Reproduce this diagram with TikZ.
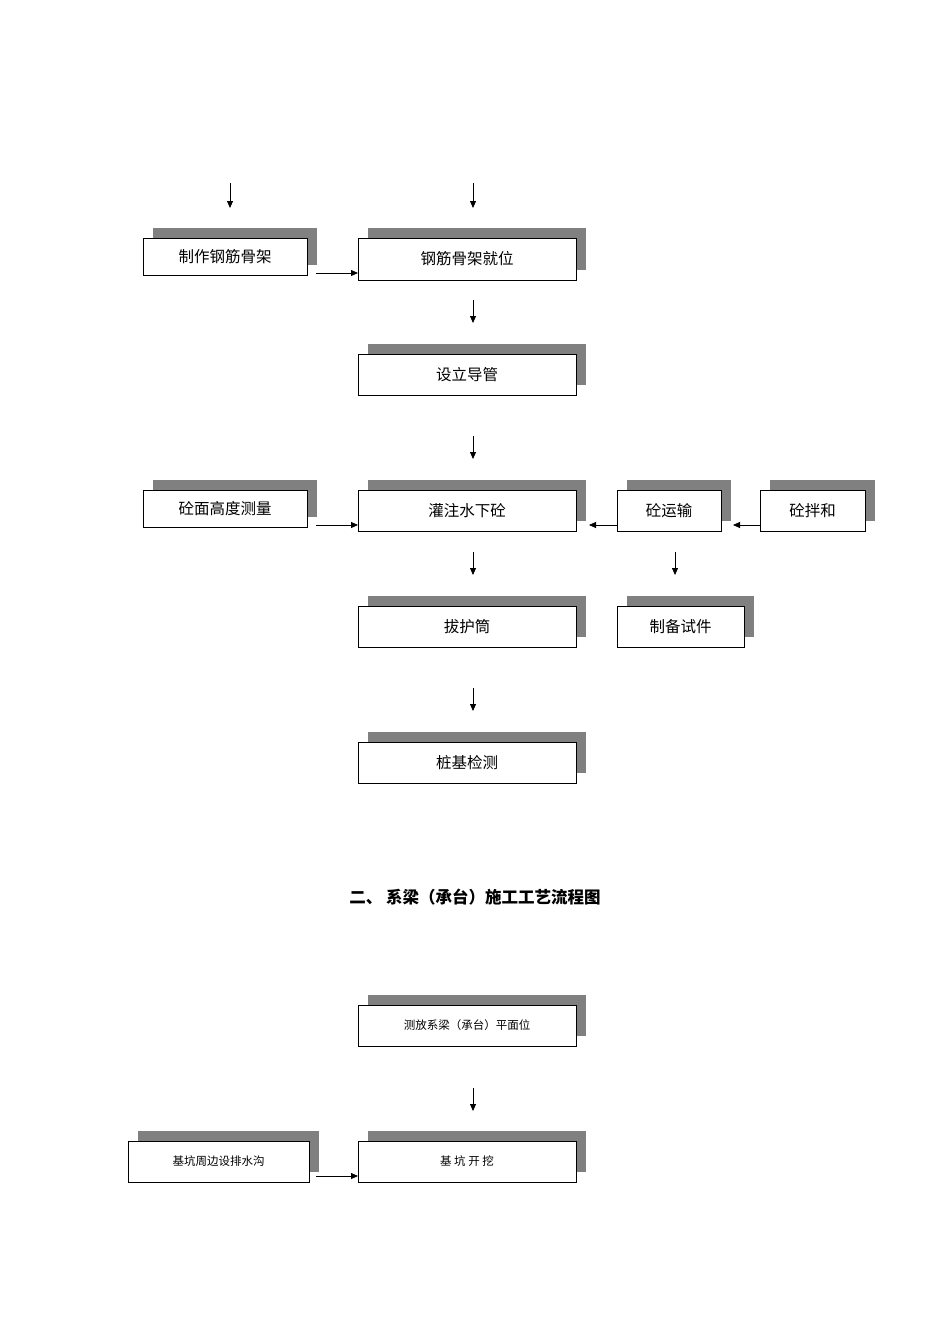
\documentclass[tikz,border=0pt]{standalone}
\usepackage{fontspec}
\newfontfamily\cjk{Noto Sans CJK SC}
\usetikzlibrary{arrows.meta}
\begin{document}
\begin{tikzpicture}[x=1pt,y=-1pt,
  arr/.style={-{Triangle[length=7pt,width=6pt]},line width=0.8pt},
  shad/.style={fill=black!50},
  frame/.style={draw,fill=white,line width=0.8pt}]
\useasboundingbox (0,0) rectangle (950,1344);
\newcommand\shbox[6]{%
  \fill[shad] (#2+10,#3-10) rectangle (#4+10,#5-10);
  \draw[frame] (#2,#3) rectangle (#4,#5);
  \node[inner sep=0] (#1) at ({(#2+#4)/2},{(#3+#5)/2}) {#6};
  \coordinate (#1-w) at (#2,{#5-5});
  \coordinate (#1-e) at (#4,{#5-5});
}
\shbox{a}{143}{238}{307}{275}{\cjk\fontsize{15.5}{18}\selectfont 制作钢筋骨架}
\shbox{b}{358}{238}{576}{280}{\cjk\fontsize{15.5}{18}\selectfont 钢筋骨架就位}
\shbox{c}{358}{354}{576}{395}{\cjk\fontsize{15.5}{18}\selectfont 设立导管}
\shbox{d}{358}{490}{576}{531}{\cjk\fontsize{15.5}{18}\selectfont 灌注水下砼}
\shbox{e}{143}{490}{307}{527}{\cjk\fontsize{15.5}{18}\selectfont 砼面高度测量}
\shbox{f}{617}{490}{721}{531}{\cjk\fontsize{15.5}{18}\selectfont 砼运输}
\shbox{g}{760}{490}{865}{531}{\cjk\fontsize{15.5}{18}\selectfont 砼拌和}
\shbox{h}{358}{606}{576}{647}{\cjk\fontsize{15.5}{18}\selectfont 拔护筒}
\shbox{i}{617}{606}{744}{647}{\cjk\fontsize{15.5}{18}\selectfont 制备试件}
\shbox{j}{358}{742}{576}{783}{\cjk\fontsize{15.5}{18}\selectfont 桩基检测}
\shbox{k}{358}{1005}{576}{1046}{\cjk\fontsize{11.5}{14}\selectfont 测放系梁（承台）平面位}
\shbox{l}{128}{1141}{309}{1182}{\cjk\fontsize{11.5}{14}\selectfont 基坑周边设排水沟}
\shbox{m}{358}{1141}{576}{1182}{\cjk\fontsize{11.5}{14}\selectfont 基\ 坑\ 开\ 挖}
\node[font=\cjk\bfseries\fontsize{16.5}{20}\selectfont] (title) at (475,897) {二、\ 系梁（承台）施工工艺流程图};
\foreach \n/\x/\ya/\yb in {v1/230/183/208, v2/473/183/208, v3/473/300/323, v4/473/436/459, v5/473/552/575, v6/675/552/575, v7/473/688/711, v8/473/1088/1111}{
  \coordinate (\n s) at (\x,\ya); \coordinate (\n t) at (\x,\yb);
  \draw[arr] (\n s) -- (\n t);
}
\coordinate (as) at (316,273); \draw[arr] (as) -- (b-w |- as);
\coordinate (es) at (316,525); \draw[arr] (es) -- (d-w |- es);
\coordinate (ft) at (589,525); \draw[arr] (f-w |- ft) -- (ft);
\coordinate (gt) at (733,525); \draw[arr] (g-w |- gt) -- (gt);
\coordinate (ls) at (316,1176); \draw[arr] (ls) -- (m-w |- ls);
\end{tikzpicture}
\end{document}
